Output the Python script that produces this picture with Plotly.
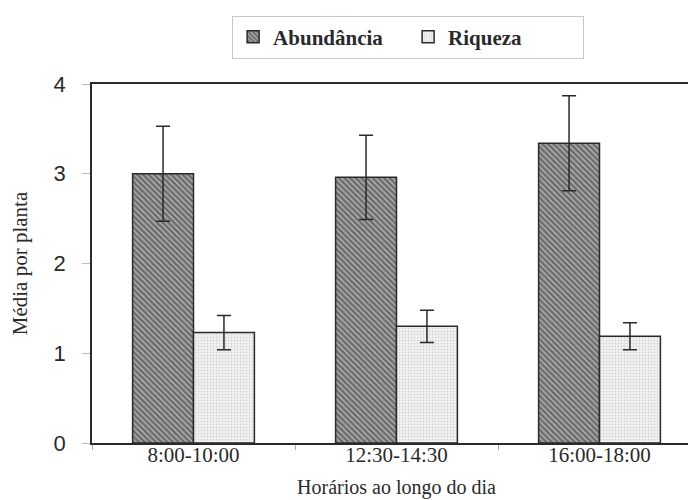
import plotly.graph_objects as go

categories = ["8:00-10:00", "12:30-14:30", "16:00-18:00"]
abundancia = [3.0, 2.96, 3.34]
abundancia_err = [0.53, 0.47, 0.53]
riqueza = [1.23, 1.30, 1.19]
riqueza_err = [0.19, 0.18, 0.15]

serif = "Liberation Serif, Times New Roman, serif"
sans = "Liberation Sans, Arial, sans-serif"
ink = "#2a2a2a"

fig = go.Figure()
fig.add_trace(go.Bar(
    x=categories, y=abundancia, name="Abundância",
    marker=dict(color="white", line=dict(color=ink, width=1.5),
                pattern=dict(shape="\\", fgcolor="#1e1e1e", bgcolor="#bdbdbd",
                             size=4, solidity=0.7)),
    error_y=dict(type="data", array=abundancia_err, color=ink, thickness=1.5, width=7),
))
fig.add_trace(go.Bar(
    x=categories, y=riqueza, name="Riqueza",
    marker=dict(color="white", line=dict(color=ink, width=1.5),
                pattern=dict(shape=".", fgcolor="#b5b5b5", bgcolor="#f3f3f3",
                             size=3, solidity=0.3)),
    error_y=dict(type="data", array=riqueza_err, color=ink, thickness=1.5, width=7),
))

fig.update_layout(
    width=696, height=500,
    margin=dict(l=84, r=3, t=76, b=65, autoexpand=False),
    paper_bgcolor="white", plot_bgcolor="white",
    barmode="group", bargap=0.4, bargroupgap=0,
    showlegend=True,
    legend=dict(orientation="h", xref="container", yref="container",
                x=0.322, y=0.985, xanchor="left", yanchor="top",
                font=dict(family=serif, size=21, color=ink, weight="bold"),
                bordercolor="#c8c8c8", borderwidth=1, bgcolor="white",
                itemwidth=30, entrywidth=130, tracegroupgap=0),
    xaxis=dict(showline=True, linecolor=ink, linewidth=1.5, mirror=True, automargin=False,
               tickson="boundaries", ticks="outside", ticklen=5, tickcolor="#aaaaaa",
               ticklabelstandoff=-8,
               tickfont=dict(family=serif, size=21, color=ink),
               title=dict(text="Horários ao longo do dia", font=dict(family=serif, size=20, color=ink),
                          standoff=14)),
    yaxis=dict(range=[0, 4], dtick=1, showline=True, linecolor=ink, linewidth=1.5, mirror=True,
               automargin=False,
               showgrid=False, zeroline=False, ticks="outside", ticklen=8, tickcolor="#bbbbbb",
               ticklabelstandoff=12,
               tickfont=dict(family=sans, size=22, color=ink),
               title=dict(text="Média por planta", font=dict(family=serif, size=21, color=ink),
                          standoff=20)),
)

fig.write_html("out.html")
